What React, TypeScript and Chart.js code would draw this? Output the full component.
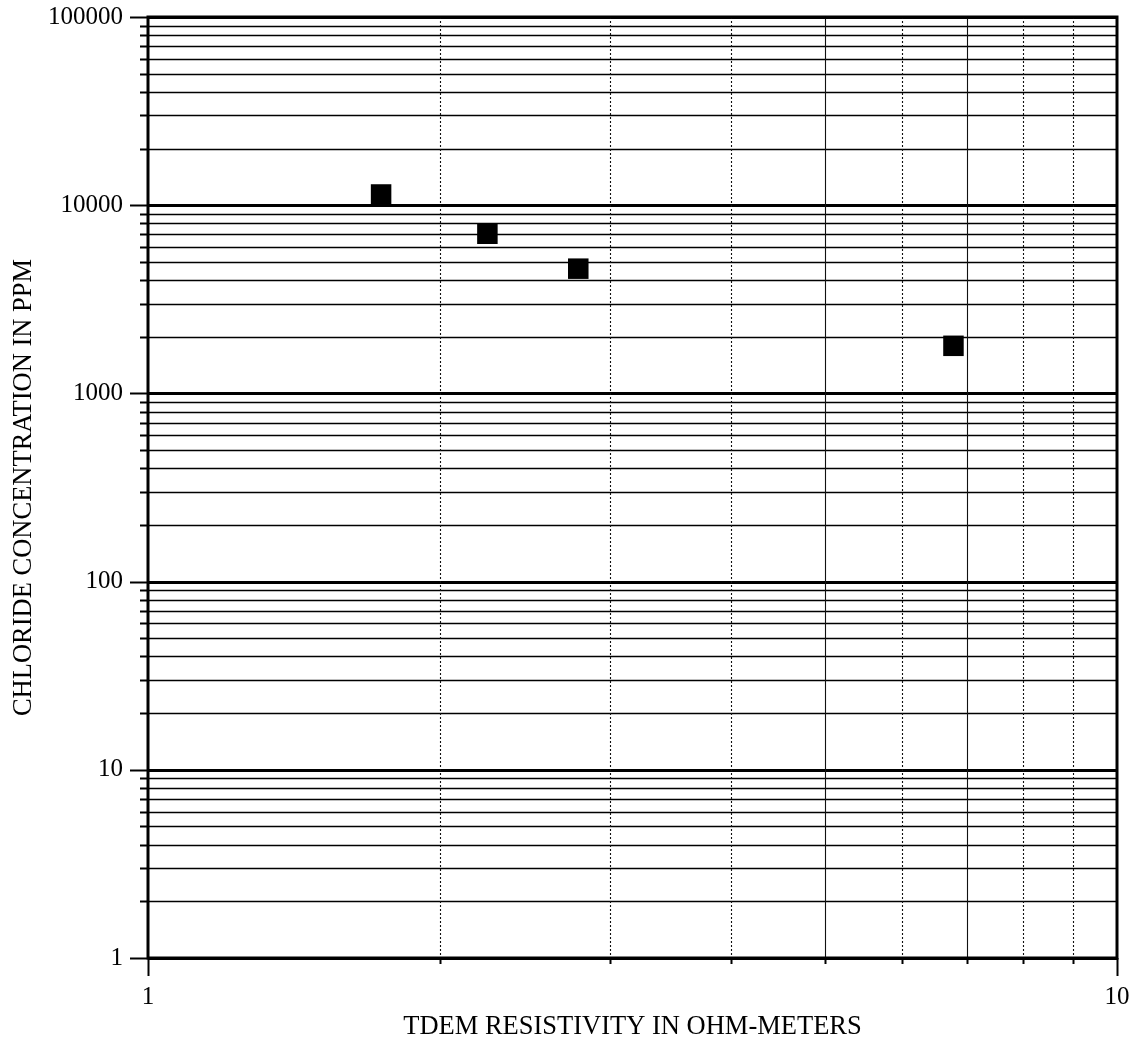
import { useEffect, useRef } from 'react';
import { Chart, registerables } from 'chart.js';

Chart.register(...registerables);

// Measured samples: TDEM resistivity (ohm-m) vs. chloride concentration (ppm)
const resistivity = [1.74, 2.24, 2.78, 6.78];
const chloride = [11400, 7050, 4600, 1790];

// Axis ticks
const xTickValues = [1, 2, 3, 4, 5, 6, 7, 8, 9, 10];
const xTickLabels = ['1', '', '', '', '', '', '', '', '', '10'];
const yDecades = [1, 10, 100, 1000, 10000, 100000];
const yDecadeLabels = ['1', '10', '100', '1000', '10000', '100000'];
const ySubSteps = [2, 3, 4, 5, 6, 7, 8, 9];

const SERIF = "'Liberation Serif', 'DejaVu Serif', serif";
const solidVerticals = [5, 7];

const yTickValues: number[] = [];
yDecades.forEach((d, i) => {
  yTickValues.push(d);
  if (i < yDecades.length - 1) ySubSteps.forEach((s) => yTickValues.push(d * s));
});

// Log-paper style grid, outside ticks and heavy frame
const paperGrid = {
  id: 'paperGrid',
  beforeDatasetsDraw(chart: any) {
    const { ctx, chartArea } = chart;
    const { left, right, top, bottom } = chartArea;
    const xs = chart.scales.x;
    const ys = chart.scales.y;
    ctx.save();
    ctx.lineCap = 'butt';

    // horizontal lines and left ticks
    yTickValues.forEach((v) => {
      const py = Math.round(ys.getPixelForValue(v)) + 0.5;
      const major = yDecades.includes(v);
      ctx.setLineDash([]);
      ctx.strokeStyle = '#000';
      ctx.lineWidth = major ? 2.8 : 1.3;
      ctx.beginPath();
      ctx.moveTo(left, py);
      ctx.lineTo(right, py);
      ctx.stroke();
      ctx.lineWidth = 2;
      ctx.beginPath();
      ctx.moveTo(left - (major ? 18 : 8), py);
      ctx.lineTo(left, py);
      ctx.stroke();
    });

    // vertical lines and bottom ticks
    xTickValues.forEach((v) => {
      const px = Math.round(xs.getPixelForValue(v)) + 0.5;
      const major = v === 1 || v === 10;
      if (!major) {
        ctx.strokeStyle = '#111';
        ctx.lineWidth = 1.1;
        ctx.setLineDash(solidVerticals.includes(v) ? [] : [2, 2]);
        ctx.beginPath();
        ctx.moveTo(px, top);
        ctx.lineTo(px, bottom);
        ctx.stroke();
      }
      ctx.setLineDash([]);
      ctx.strokeStyle = '#000';
      ctx.lineWidth = 2;
      ctx.beginPath();
      ctx.moveTo(px, bottom);
      ctx.lineTo(px, bottom + (major ? 18 : 6));
      ctx.stroke();
    });

    // frame
    ctx.setLineDash([]);
    ctx.strokeStyle = '#000';
    ctx.lineWidth = 3;
    ctx.strokeRect(left, top, right - left, bottom - top);
    ctx.restore();
  },
};

const zeroPadding = (scale: any) => {
  scale.paddingTop = 0;
  scale.paddingBottom = 0;
  scale.paddingLeft = 0;
  scale.paddingRight = 0;
};

export default function App() {
  const canvasRef = useRef<HTMLCanvasElement | null>(null);

  useEffect(() => {
    if (!canvasRef.current) return;
    const chart = new Chart(canvasRef.current, {
      type: 'scatter',
      data: {
        datasets: [
          {
            data: resistivity.map((x, i) => ({ x, y: chloride[i] })),
            pointStyle: 'rect',
            pointRadius: 14.5,
            pointHoverRadius: 14.5,
            backgroundColor: '#000',
            borderColor: '#000',
            borderWidth: 0,
          },
        ],
      },
      options: {
        animation: false,
        responsive: false,
        devicePixelRatio: 1,
        layout: { padding: { top: 17, right: 21, left: 0, bottom: 0 } },
        plugins: {
          legend: { display: false },
          tooltip: { enabled: false },
        },
        scales: {
          x: {
            type: 'logarithmic',
            position: 'bottom',
            min: 1,
            max: 10,
            grid: { display: false },
            border: { display: false },
            afterBuildTicks: (scale: any) => {
              scale.ticks = xTickValues.map((value) => ({ value }));
            },
            afterFit: (scale: any) => {
              scale.height = 88;
              zeroPadding(scale);
            },
            ticks: {
              autoSkip: false,
              maxRotation: 0,
              padding: 16,
              color: '#000',
              font: { family: SERIF, size: 25 },
              callback: (value: any) => xTickLabels[xTickValues.indexOf(Number(value))] ?? '',
            },
            title: {
              display: true,
              text: 'TDEM RESISTIVITY IN OHM-METERS',
              color: '#000',
              font: { family: SERIF, size: 26.5 },
              padding: { top: 0, bottom: 3 },
            },
          },
          y: {
            type: 'logarithmic',
            min: 1,
            max: 100000,
            grid: { display: false },
            border: { display: false },
            afterBuildTicks: (scale: any) => {
              scale.ticks = yTickValues.map((value) => ({ value }));
            },
            afterFit: (scale: any) => {
              scale.width = 148;
              zeroPadding(scale);
            },
            ticks: {
              autoSkip: false,
              padding: 17,
              color: '#000',
              font: { family: SERIF, size: 25 },
              callback: (value: any) => {
                const i = yDecades.indexOf(Number(value));
                return i >= 0 ? yDecadeLabels[i] : '';
              },
            },
            title: {
              display: true,
              text: 'CHLORIDE CONCENTRATION IN PPM',
              color: '#000',
              font: { family: SERIF, size: 26.5 },
              padding: { top: 8, bottom: 0 },
            },
          },
        },
      },
      plugins: [paperGrid],
    });
    return () => chart.destroy();
  }, []);

  return (
    <div style={{ position: 'fixed', left: 0, top: 0, width: 1138, height: 1046, background: '#fff' }}>
      <canvas ref={canvasRef} width={1138} height={1046} />
    </div>
  );
}
